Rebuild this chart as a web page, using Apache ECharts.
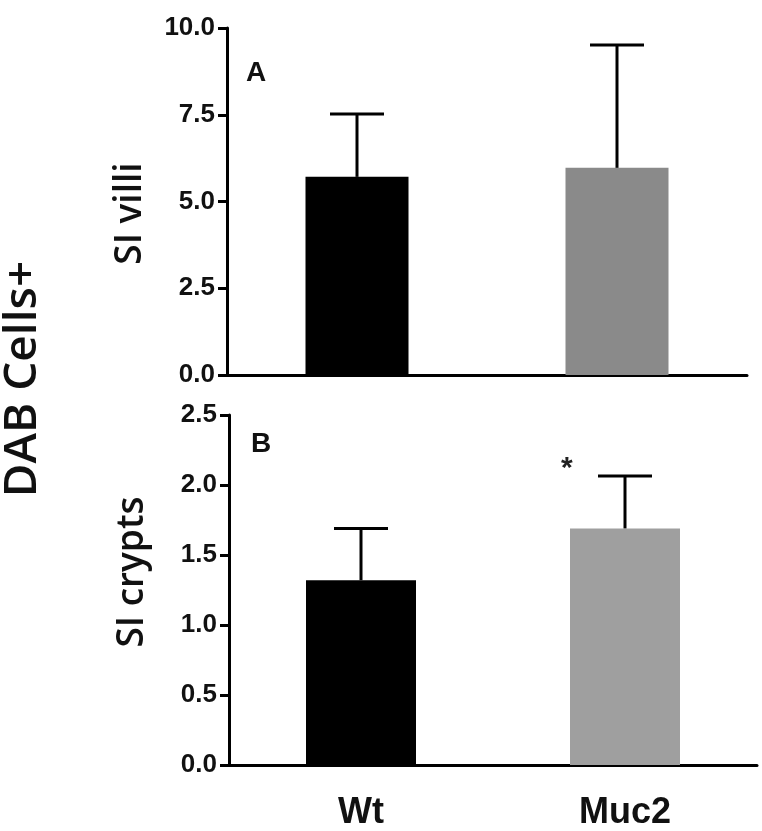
<!DOCTYPE html>
<html>
<head>
<meta charset="utf-8">
<script src="https://cdn.jsdelivr.net/npm/echarts@6/dist/echarts.min.js"></script>
<style>
html,body{margin:0;padding:0;background:#fff;}
#chart{width:762px;height:831px;}
</style>
</head>
<body>
<div id="chart"></div>
<script>
// ---- data ----
const categories = ['Wt', 'Muc2'];
const villiMean = [5.71, 5.97];
const villiErr = [1.81, 3.54];
const cryptsMean = [1.32, 1.69];
const cryptsErr = [0.37, 0.375];
const villiTicks = [0, 10, 2.5];   // min, max, interval
const cryptsTicks = [0, 2.5, 0.5];

// ---- styles ----
const villiColors = ['#000000', '#8a8a8a'];
const cryptsColors = ['#000000', '#9f9f9f'];
const tickFont = {fontFamily: 'Liberation Sans', fontWeight: 'bold', fontSize: 26, color: '#111'};

const chart = echarts.init(document.getElementById('chart'), null, {renderer: 'canvas'});

function errRender(capHalf) {
  return function (params, api) {
    const x = api.value(0), m = api.value(1), e = api.value(2);
    const p0 = api.coord([x, m]);
    const p1 = api.coord([x, m + e]);
    const st = {stroke: '#000', lineWidth: 3};
    return {
      type: 'group',
      children: [
        {type: 'line', shape: {x1: p0[0], y1: p0[1], x2: p1[0], y2: p1[1]}, style: st},
        {type: 'line', shape: {x1: p1[0] - capHalf, y1: p1[1], x2: p1[0] + capHalf, y2: p1[1]}, style: st}
      ]
    };
  };
}

const axisLine = {show: true, lineStyle: {color: '#000', width: 3}};

const option = {
  animation: false,
  backgroundColor: '#fff',
  grid: [
    {left: 227, right: 15, top: 28, height: 347},
    {left: 229, right: 5, top: 415, height: 352}
  ],
  xAxis: [
    {type: 'category', gridIndex: 0, data: categories, axisLine: axisLine,
     axisTick: {show: false}, axisLabel: {show: false}},
    {type: 'category', gridIndex: 1, data: categories, axisLine: axisLine,
     axisTick: {show: false},
     axisLabel: {fontFamily: 'Liberation Sans', fontWeight: 'bold', fontSize: 36, color: '#111', margin: 30}}
  ],
  yAxis: [
    {type: 'value', gridIndex: 0, min: villiTicks[0], max: villiTicks[1], interval: villiTicks[2],
     axisLine: axisLine, axisTick: {show: true, length: 9, lineStyle: {width: 3, color: '#000'}},
     splitLine: {show: false},
     axisLabel: Object.assign({margin: 12, formatter: v => v.toFixed(1)}, tickFont),
     name: 'SI villi', nameLocation: 'middle', nameGap: 78,
     nameTextStyle: {fontFamily: 'Open Sans', fontWeight: 600, fontSize: 37, color: '#111', padding: [0, 24, 0, 0]}},
    {type: 'value', gridIndex: 1, min: cryptsTicks[0], max: cryptsTicks[1], interval: cryptsTicks[2],
     axisLine: axisLine, axisTick: {show: true, length: 9, lineStyle: {width: 3, color: '#000'}},
     splitLine: {show: false},
     axisLabel: Object.assign({margin: 12, formatter: v => v.toFixed(1)}, tickFont),
     name: 'SI crypts', nameLocation: 'middle', nameGap: 78,
     nameTextStyle: {fontFamily: 'Open Sans', fontWeight: 600, fontSize: 37, color: '#111', padding: [0, 0, 0, 36]}}
  ],
  series: [
    {type: 'bar', xAxisIndex: 0, yAxisIndex: 0, barWidth: 103,
     data: villiMean.map((v, i) => ({value: v, itemStyle: {color: villiColors[i]}}))},
    {type: 'custom', xAxisIndex: 0, yAxisIndex: 0, renderItem: errRender(27), z: 5,
     data: villiMean.map((v, i) => [i, v, villiErr[i]])},
    {type: 'bar', xAxisIndex: 1, yAxisIndex: 1, barWidth: 110,
     data: cryptsMean.map((v, i) => ({value: v, itemStyle: {color: cryptsColors[i]}}))},
    {type: 'custom', xAxisIndex: 1, yAxisIndex: 1, renderItem: errRender(27), z: 5,
     data: cryptsMean.map((v, i) => [i, v, cryptsErr[i]])}
  ],
  graphic: [
    {type: 'text', left: 246, top: 59, style: {text: 'A', font: 'bold 28px "Liberation Sans"', fill: '#111'}},
    {type: 'text', left: 251, top: 430, style: {text: 'B', font: 'bold 28px "Liberation Sans"', fill: '#111'}},
    {type: 'text', left: 561, top: 454, style: {text: '*', font: 'bold 30px "Liberation Sans"', fill: '#222'}},
    {type: 'text', x: 23, y: 379, rotation: Math.PI / 2,
     style: {text: 'DAB Cells+', font: '600 46px "Open Sans"', fill: '#111', align: 'center', verticalAlign: 'middle'}}
  ]
};
chart.setOption(option);
</script>
</body>
</html>
